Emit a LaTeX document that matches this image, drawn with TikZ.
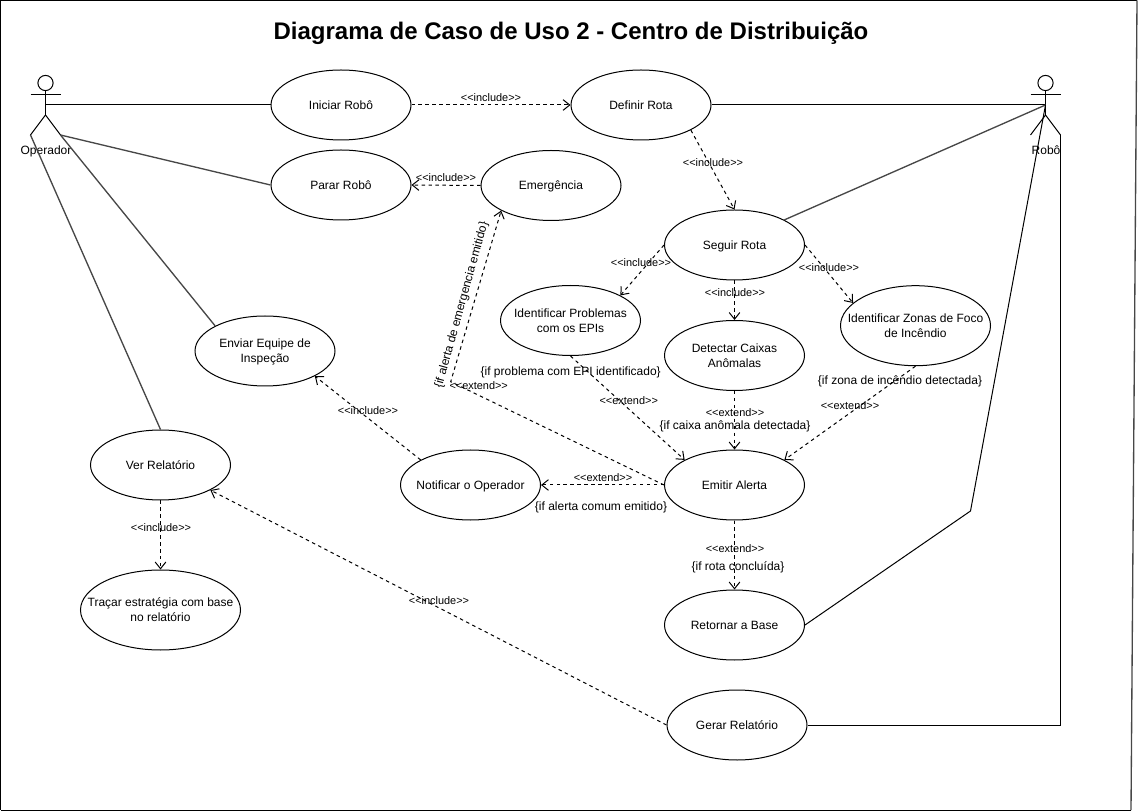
\documentclass[tikz,border=0pt]{standalone}
\usepackage{fontspec}
\setmainfont{Liberation Sans}
\usetikzlibrary{shapes.geometric,arrows.meta}

\tikzset{every picture/.style={line width=0.75pt}}
\tikzset{
  usecase/.style={draw,ellipse,minimum width=105pt,minimum height=52.5pt,inner xsep=-30pt,inner ysep=-10pt,text height=8pt,text depth=1.5pt,align=center,font=\fontsize{9}{11.25}\selectfont},
  duaslinhas/.style={text height=19.25pt,text depth=1.5pt},
  rotulo/.style={inner sep=0pt,text height=8.5pt,text depth=1pt,font=\fontsize{8.2}{10}\selectfont},
  condicao/.style={inner sep=0pt,text height=9pt,text depth=1.5pt,font=\fontsize{9}{11}\selectfont},
  ator/.style={inner sep=0pt,text height=9pt,text depth=1.5pt,font=\fontsize{9}{11}\selectfont},
  depende/.style={dashed,dash pattern=on 2.6pt off 2.6pt,-{Straight Barb[length=5pt,width=8pt]}},
  inclinada/.style={draw=black!72,line width=1pt}
}

\begin{document}
\begin{tikzpicture}[x=0.75pt,y=0.75pt,yscale=-1]
  \useasboundingbox (0,0) rectangle (1142,812);

  %Shape: Frame
  \draw (0.5,0.5) -- (1137,0.5) ;
  \draw [inclinada] (1137,0.5) -- (1131,810) ;
  \draw (1131,810) -- (0.5,810) ;
  \draw [line width=1.1pt] (0.5,810) -- (0.5,0.5) ;

  % Text Node
  \node [text height=15pt,text depth=2.1pt,inner sep=0pt,font=\bfseries\fontsize{18}{22}\selectfont] (titulo) at (571,31) {Diagrama de Caso de Uso 2 - Centro de Distribuição};

  %Shape: Actor
  \draw (45.5,83) circle [radius=7.6] ;
  \draw (45.5,90.5) -- (45.5,115) ;
  \draw (30.5,95) -- (60.5,95) ;
  \coordinate (operador) at (45.5,105);
  \coordinate (operadorpeE) at (30.5,135);
  \coordinate (operadorpeD) at (60.5,135);
  \draw (operadorpeE) -- (45.5,115) -- (operadorpeD) ;
  \node [ator] (operadorlabel) at (46,150) {Operador};

  %Shape: Actor
  \draw (1045.5,83) circle [radius=7.6] ;
  \draw (1045.5,90.5) -- (1045.5,115) ;
  \draw (1030.5,95) -- (1060.5,95) ;
  \coordinate (robo) at (1045.5,105);
  \coordinate (robopeE) at (1030.5,135);
  \coordinate (robopeD) at (1060.5,135);
  \draw (robopeE) -- (1045.5,115) -- (robopeD) ;
  \node [ator] (robolabel) at (1046,150) {Robô};

  %Shape: Ellipse
  \node [usecase] (iniciar) at (341,105) {Iniciar Robô};
  \node [usecase] (definir) at (641,105) {Definir Rota};
  \node [usecase] (parar) at (341,185) {Parar Robô};
  \node [usecase] (emergencia) at (551,185.5) {Emergência};
  \node [usecase] (seguir) at (734.5,245) {Seguir Rota};
  \node [usecase,duaslinhas] (problemas) at (570.5,320.5) {Identificar Problemas\\com os EPIs};
  \node [usecase,duaslinhas] (caixas) at (734.5,355.5) {Detectar Caixas\\Anômalas};
  \node [usecase,duaslinhas,minimum width=112.5pt,minimum height=60pt] (zonas) at (915.5,325.7) {Identificar Zonas de Foco\\de Incêndio};
  \node [usecase,duaslinhas] (enviar) at (265,351) {Enviar Equipe de\\Inspeção};
  \node [usecase] (verrelatorio) at (160.5,465) {Ver Relatório};
  \node [usecase] (notificar) at (470.5,485) {Notificar o Operador};
  \node [usecase] (emitir) at (734.5,485) {Emitir Alerta};
  \node [usecase,duaslinhas,minimum width=120pt,minimum height=60pt] (tracar) at (160.5,610) {Traçar estratégia com base\\no relatório};
  \node [usecase] (retornar) at (734.5,625) {Retornar a Base};
  \node [usecase] (gerar) at (737,725) {Gerar Relatório};

  %Straight Lines
  \draw (operador) -- (iniciar.west) ;
  \draw [inclinada] (operadorpeD) -- (parar.west) ;
  \draw [inclinada] (operadorpeD) -- (enviar.north west) ;
  \draw [inclinada] (operadorpeE) -- (verrelatorio.north) ;
  \draw (definir.east) -- (robo) ;
  \draw [inclinada] (seguir.north east) -- (robo) ;
  \coordinate (dobraretornar) at (970.5,511);
  \draw (retornar.east) -- (dobraretornar) -- (robo) ;
  \coordinate (dobragerar) at (1060.5,725);
  \draw (gerar.east) -- (dobragerar) -- (robopeD) ;

  %Dashed Lines
  \draw [depende] (iniciar.east) -- (definir.west) ;
  \draw [depende] (definir.south east) -- (seguir.north) ;
  \draw [depende] (emergencia.west) -- (parar.east) ;
  \draw [depende] (seguir.west) -- (problemas.north east) ;
  \draw [depende] (seguir.south) -- (caixas.north) ;
  \draw [depende] (seguir.east) -- (zonas.160) ;
  \draw [depende] (problemas.south) -- (emitir.north west) ;
  \draw [depende] (caixas.south) -- (emitir.north) ;
  \draw [depende] (zonas.south) -- (emitir.north east) ;
  \draw [depende] (emitir.west) -- (notificar.east) ;
  \coordinate (dobraalerta) at (450.7,381.7);
  \draw [depende] (emitir.west) -- (dobraalerta) -- (emergencia.south west) ;
  \draw [depende] (notificar.north west) -- (enviar.south east) ;
  \draw [depende] (verrelatorio.south) -- (tracar.north) ;
  \draw [depende] (gerar.west) -- (verrelatorio.south east) ;
  \draw [depende] (emitir.south) -- (retornar.north) ;

  % Text Node
  \node [rotulo] (incl1) at (491,97) {<{}<include>{}>};
  \node [rotulo] (incl2) at (713,162) {<{}<include>{}>};
  \node [rotulo] (incl3) at (446,177) {<{}<include>{}>};
  \node [rotulo] (incl4) at (641,262) {<{}<include>{}>};
  \node [rotulo] (incl5) at (735,292) {<{}<include>{}>};
  \node [rotulo] (incl6) at (829,267) {<{}<include>{}>};
  \node [rotulo] (incl7) at (368,410) {<{}<include>{}>};
  \node [rotulo] (incl8) at (161,527) {<{}<include>{}>};
  \node [rotulo] (incl9) at (439,599) {<{}<include>{}>};
  % Text Node
  \node [rotulo] (ext1) at (478.7,385) {<{}<extend>{}>};
  \node [rotulo] (ext2) at (628.7,400) {<{}<extend>{}>};
  \node [rotulo] (ext3) at (735,412) {<{}<extend>{}>};
  \node [rotulo] (ext4) at (850,405) {<{}<extend>{}>};
  \node [rotulo] (ext5) at (603,477) {<{}<extend>{}>};
  \node [rotulo] (ext6) at (735,547) {<{}<extend>{}>};
  % Text Node
  \node [condicao] (cond1) at (570.7,370.5) {\{if problema com EPI identificado\}};
  \node [condicao] (cond2) at (735,425) {\{if caixa anômala detectada\}};
  \node [condicao] (cond3) at (900,380) {\{if zona de incêndio detectada\}};
  \node [condicao] (cond4) at (601,505.7) {\{if alerta comum emitido\}};
  \node [condicao] (cond5) at (738,565) {\{if rota concluída\}};
  \node [condicao,rotate=74.5] (cond6) at (460,304.5) {\{if alerta de emergencia emitido\}};
\end{tikzpicture}
\end{document}
